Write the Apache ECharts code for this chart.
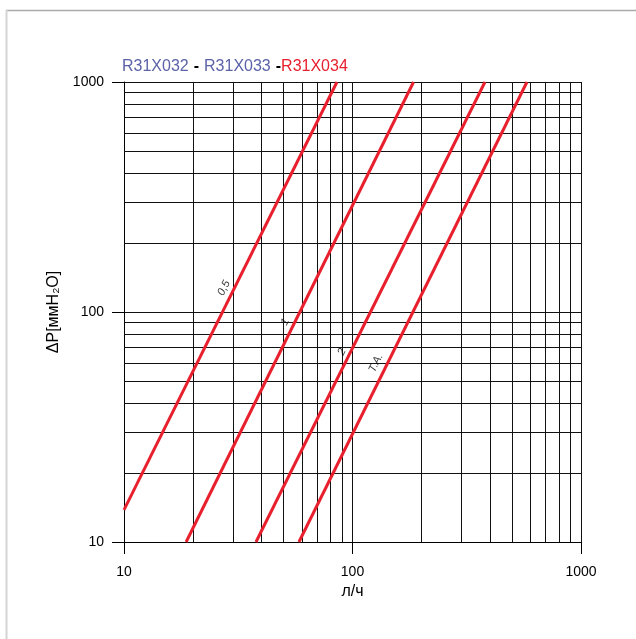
<!DOCTYPE html>
<html><head><meta charset="utf-8">
<script src="https://cdn.jsdelivr.net/npm/echarts@6/dist/echarts.min.js"></script>
<style>html,body{margin:0;padding:0;background:#fff}#c{width:636px;height:639px}</style>
</head><body><div id="c"></div>
<script>
// Data (l/h vs mmH2O)
const curveNames = ['0,5', '1', '2', 'T.A.'];
const curve05 = [[10, 13.8], [85.5, 1000]];
const curve1 = [[18.7, 10], [185, 1000]];
const curve2 = [[37.8, 10], [380, 1000]];
const curveTA = [[58.3, 10], [580, 1000]];
const labelAnchors = [[27.4, 127], [50.7, 90.5], [89.9, 67], [126.7, 60]];
const xTickLabels = [10, 100, 1000];
const yTickLabels = [10, 100, 1000];
const minorX = [20, 30, 40, 50, 60, 70, 80, 90, 200, 300, 400, 500, 600, 700, 800, 900];
const minorY = [20, 30, 40, 50, 60, 70, 80, 90, 200, 300, 400, 500, 600, 700, 800, 900];
const titleParts = ['R31X032', 'R31X033', 'R31X034'];

const RED = '#e8202e';
const BLUE = '#5b62a8';
const FONT = '"Liberation Sans", Arial, sans-serif';

const chart = echarts.init(document.getElementById('c'), null, {renderer: 'canvas'});

const gridLine = {color: '#111', width: 1, type: 'solid'};

const curves = [curve05, curve1, curve2, curveTA];

const series = curves.map((d, i) => ({
  type: 'line',
  name: curveNames[i],
  data: d,
  symbol: 'none',
  silent: true,
  z: 5,
  lineStyle: {color: RED, width: 3},
  animation: false
}));

series.push({
  type: 'line',
  data: [],
  silent: true,
  z: 2,
  markLine: {
    silent: true,
    symbol: ['none', 'none'],
    animation: false,
    label: {show: false},
    lineStyle: gridLine,
    data: minorX.map(v => ({xAxis: v})).concat(minorY.map(v => ({yAxis: v})))
  }
});

series.push({
  type: 'scatter',
  data: labelAnchors.map((p, i) => ({value: p, name: curveNames[i]})),
  symbolSize: 0,
  silent: true,
  z: 6,
  label: {
    show: true,
    position: 'inside',
    formatter: p => p.name,
    rotate: 63.6,
    color: '#000',
    fontSize: 11,
    fontStyle: 'italic',
    fontFamily: FONT
  },
  animation: false
});

chart.setOption({
  animation: false,
  backgroundColor: '#fff',
  title: {
    text: '{b|' + titleParts[0] + '} {k|-} {b|' + titleParts[1] + '} {k|-}{r|' + titleParts[2] + '}',
    left: 122,
    top: 58,
    padding: 0,
    textStyle: {
      fontWeight: 'normal',
      rich: {
        b: {color: BLUE, fontSize: 16, fontFamily: FONT, fontWeight: 'normal'},
        k: {color: '#000', fontSize: 16, fontFamily: FONT, fontWeight: 'bold'},
        r: {color: RED, fontSize: 16, fontFamily: FONT, fontWeight: 'normal'}
      }
    }
  },
  graphic: [
    {type: 'line', shape: {x1: 6, y1: 10.5, x2: 640, y2: 10.5}, style: {stroke: '#aaa', lineWidth: 1.5}, silent: true},
    {type: 'line', shape: {x1: 6.5, y1: 10, x2: 6.5, y2: 645}, style: {stroke: '#d4d4d4', lineWidth: 2}, silent: true}
  ],
  grid: {left: 124, top: 82, width: 457, height: 460, containLabel: false},
  xAxis: {
    type: 'log',
    logBase: 10,
    min: 10,
    max: 1000,
    name: 'л/ч',
    nameLocation: 'middle',
    nameGap: 38,
    nameTextStyle: {color: '#000', fontSize: 16, fontFamily: FONT},
    axisLine: {show: true, lineStyle: {color: '#000', width: 1}},
    axisTick: {show: true, inside: false, length: 12, lineStyle: {color: '#000', width: 1}},
    axisLabel: {color: '#000', fontSize: 14, fontFamily: FONT, margin: 23,
      formatter: v => xTickLabels.includes(Math.round(v)) ? String(Math.round(v)) : ''},
    splitLine: {show: true, lineStyle: gridLine},
    minorTick: {show: false},
    minorSplitLine: {show: false}
  },
  yAxis: {
    type: 'log',
    logBase: 10,
    min: 10,
    max: 1000,
    name: 'ΔP[ммH₂O]',
    nameLocation: 'middle',
    nameGap: 58,
    nameRotate: 90,
    nameTextStyle: {color: '#000', fontSize: 16, fontFamily: FONT},
    axisLine: {show: true, lineStyle: {color: '#000', width: 1}},
    axisTick: {show: true, inside: false, length: 12, lineStyle: {color: '#000', width: 1}},
    axisLabel: {color: '#000', fontSize: 14, fontFamily: FONT, margin: 20,
      formatter: v => yTickLabels.includes(Math.round(v)) ? String(Math.round(v)) : ''},
    splitLine: {show: true, lineStyle: gridLine},
    minorTick: {show: false},
    minorSplitLine: {show: false}
  },
  series: series
});
</script>
</body></html>
